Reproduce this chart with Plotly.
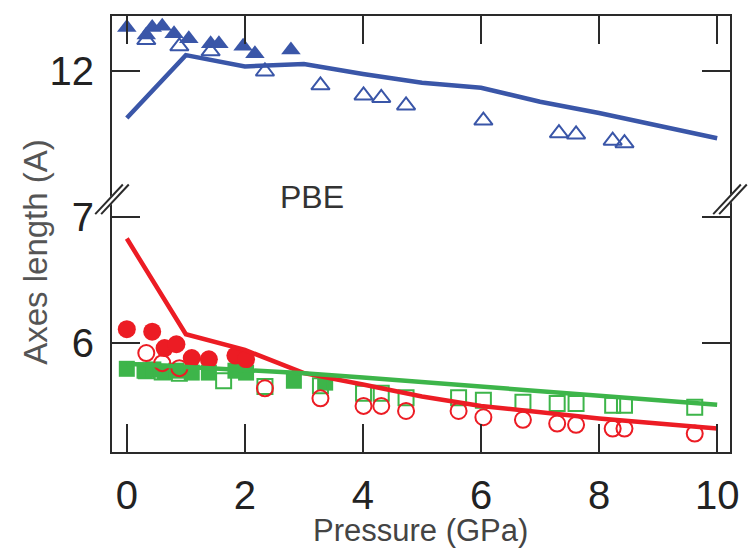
import plotly.graph_objects as go

# ---------------- data ----------------
P_calc = [0, 1, 2, 3, 4, 5, 6, 7, 8, 9, 10]
blue_calc = [11.63, 12.13, 12.04, 12.06, 11.98, 11.91, 11.87, 11.76, 11.67, 11.57, 11.47]
red_calc = [6.83, 6.07, 5.945, 5.76, 5.67, 5.575, 5.50, 5.45, 5.40, 5.36, 5.32]
green_calc = [5.835, 5.81, 5.79, 5.76, 5.725, 5.69, 5.655, 5.62, 5.58, 5.55, 5.51]

P_tri_filled = [0.0, 0.33, 0.43, 0.60, 0.80, 1.05, 1.42, 1.56, 1.97, 2.17, 2.78]
tri_filled = [12.35, 12.29, 12.35, 12.36, 12.30, 12.26, 12.22, 12.22, 12.20, 12.14, 12.17]
P_tri_open = [0.33, 0.89, 1.42, 2.34, 3.28, 4.01, 4.31, 4.73, 6.04, 7.32, 7.61, 8.23, 8.43]
tri_open = [12.25, 12.20, 12.16, 12.00, 11.89, 11.81, 11.79, 11.73, 11.61, 11.51, 11.50, 11.45, 11.43]

P_circ_filled = [0.0, 0.43, 0.64, 0.84, 1.10, 1.39, 1.84, 2.02]
circ_filled = [6.11, 6.09, 5.96, 5.99, 5.88, 5.87, 5.90, 5.87]
P_circ_open = [0.33, 0.60, 0.89, 2.34, 3.28, 4.01, 4.31, 4.73, 5.62, 6.04, 6.71, 7.29, 7.61, 8.23, 8.43, 9.62]
circ_open = [5.92, 5.84, 5.80, 5.64, 5.56, 5.50, 5.50, 5.46, 5.46, 5.41, 5.39, 5.36, 5.35, 5.32, 5.32, 5.28]

P_sq_filled = [0.0, 0.3, 0.45, 0.64, 0.84, 1.1, 1.39, 1.84, 2.02, 2.83, 3.36]
sq_filled = [5.795, 5.78, 5.79, 5.77, 5.78, 5.765, 5.765, 5.78, 5.765, 5.70, 5.685]
P_sq_open = [0.33, 0.60, 0.89, 1.64, 2.34, 3.28, 4.01, 4.31, 4.73, 5.62, 6.04, 6.71, 7.29, 7.61, 8.23, 8.43, 9.62]
sq_open = [5.78, 5.77, 5.76, 5.70, 5.655, 5.66, 5.60, 5.60, 5.565, 5.565, 5.545, 5.53, 5.52, 5.52, 5.505, 5.505, 5.49]

x_ticks = [0, 2, 4, 6, 8, 10]
y_ticks_upper = [12]
y_ticks_lower = [6, 7]

BLUE = '#3a56a8'
RED = '#ec1c24'
GREEN = '#3db54a'
AX = '#2a2a2a'

# ---------------- layout geometry ----------------
W, H = 751, 553
L, R, T, B = 112, 738, 12, 452
BRK = 197
split = (B - BRK) / (B - T)


def px(xp, yp):
    return (xp - L) / (R - L), (B - yp) / (B - T)


fig = go.Figure()

# upper panel (blue)
fig.add_trace(go.Scatter(x=P_tri_filled, y=tri_filled, mode='markers', xaxis='x2', yaxis='y2',
                         marker=dict(symbol='triangle-up', size=17, color=BLUE)))
fig.add_trace(go.Scatter(x=P_tri_open, y=tri_open, mode='markers', xaxis='x2', yaxis='y2',
                         marker=dict(symbol='triangle-up-open', size=16, color=BLUE, line=dict(width=2))))
fig.add_trace(go.Scatter(x=P_calc, y=blue_calc, mode='lines', xaxis='x2', yaxis='y2',
                         line=dict(color=BLUE, width=4.5)))

# lower panel (green, red)
fig.add_trace(go.Scatter(x=P_sq_filled, y=sq_filled, mode='markers',
                         marker=dict(symbol='square', size=16, color=GREEN)))
fig.add_trace(go.Scatter(x=P_sq_open, y=sq_open, mode='markers',
                         marker=dict(symbol='square-open', size=15, color=GREEN, line=dict(width=2))))
fig.add_trace(go.Scatter(x=P_circ_filled, y=circ_filled, mode='markers',
                         marker=dict(symbol='circle', size=18, color=RED)))
fig.add_trace(go.Scatter(x=P_circ_open, y=circ_open, mode='markers',
                         marker=dict(symbol='circle-open', size=16, color=RED, line=dict(width=2))))
fig.add_trace(go.Scatter(x=P_calc, y=red_calc, mode='lines',
                         line=dict(color=RED, width=4.5)))
fig.add_trace(go.Scatter(x=P_calc, y=green_calc, mode='lines',
                         line=dict(color=GREEN, width=4.5)))

xr = [(L - 127) / 59.8, (R - 127) / 59.8]
up_rng = [12 - (BRK - 68) / 127, 12 + (68 - T) / 127]
lo_rng = [6 - (B - 342) / 127, 6 + (342 - BRK) / 127]

tickfont = dict(family='Liberation Sans, Arial, sans-serif', size=40, color='#222')
common_ax = dict(showline=True, linecolor=AX, linewidth=2, ticks='inside', ticklen=28,
                 tickwidth=2, tickcolor=AX, showgrid=False, zeroline=False)

fig.update_layout(
    width=W, height=H, showlegend=False,
    margin=dict(l=L, r=W - R, t=T, b=H - B),
    paper_bgcolor='white', plot_bgcolor='white',
    xaxis=dict(range=xr, domain=[0, 1], anchor='y', tickvals=x_ticks, tickfont=tickfont,
               ticklabelstandoff=7, **common_ax),
    xaxis2=dict(range=xr, domain=[0, 1], anchor='y2', side='top', matches='x',
                tickvals=x_ticks, showticklabels=False, **common_ax),
    yaxis=dict(range=lo_rng, domain=[0, split], anchor='x', tickvals=y_ticks_lower,
               tickfont=tickfont, mirror='ticks', ticklabelstandoff=8, **common_ax),
    yaxis2=dict(range=up_rng, domain=[split, 1], anchor='x2', tickvals=y_ticks_upper,
                tickfont=tickfont, mirror='ticks', ticklabelstandoff=8, **common_ax),
)

# axis titles and label
cx, cy = px(424, 531)
fig.add_annotation(text='Pressure (GPa)', x=cx, y=cy, xref='paper', yref='paper', showarrow=False,
                   font=dict(family='Liberation Sans, Arial, sans-serif', size=31, color='#444'),
                   xanchor='center', yanchor='middle')
cx, cy = px(35, 250)
fig.add_annotation(text='Axes length (A)', x=cx, y=cy, xref='paper', yref='paper', showarrow=False,
                   textangle=-90,
                   font=dict(family='Liberation Sans, Arial, sans-serif', size=33, color='#555'),
                   xanchor='center', yanchor='middle')
cx, cy = px(315, 195)
fig.add_annotation(text='PBE', x=cx, y=cy, xref='paper', yref='paper', showarrow=False,
                   font=dict(family='Liberation Sans, Arial, sans-serif', size=32, color='#333'),
                   xanchor='center', yanchor='middle')

# axis break marks
for xc in (L, R):
    dx, dy = 14, 15
    for off, col, w in ((0, 'white', 6), (-3, AX, 2), (3, AX, 2)):
        x0, y0 = px(xc - dx + off, BRK + dy)
        x1, y1 = px(xc + dx + off, BRK - dy)
        fig.add_shape(type='line', xref='paper', yref='paper', x0=x0, y0=y0, x1=x1, y1=y1,
                      line=dict(color=col, width=w), layer='above')

fig.write_html('out.html')
